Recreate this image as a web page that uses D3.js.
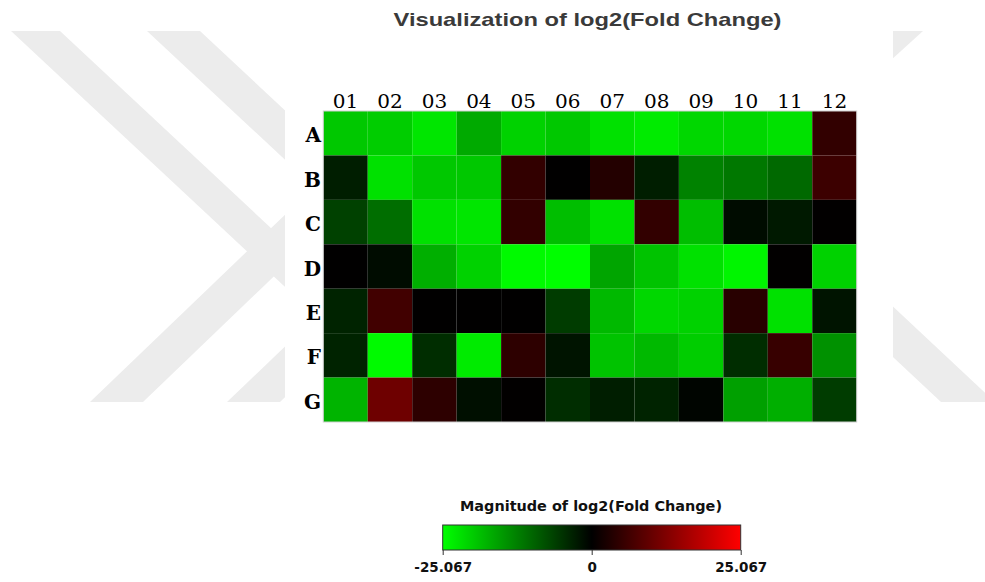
<!DOCTYPE html>
<html>
<head>
<meta charset="utf-8">
<script src="https://cdn.jsdelivr.net/npm/d3@7"></script>
<style>
  html, body { margin: 0; padding: 0; background: #fff; }
  svg { display: block; }
</style>
</head>
<body>
<div id="chart"></div>
<script>
// plate layout
const cols = ['01', '02', '03', '04', '05', '06', '07', '08', '09', '10', '11', '12'];
const rows = ['A', 'B', 'C', 'D', 'E', 'F', 'G'];

// log2(fold change) per well, row by row
const rowA = [-19.7, -20.2, -22.6, -16.7, -20.6, -19.7, -22.1, -23.1, -21.1, -21.1, -22.1, 4.9];
const rowB = [-2.9, -22.1, -19.7, -19.7, 4.9, 0.1, 3.4, -2.9, -12.8, -11.8, -10.3, 5.9];
const rowC = [-6.4, -10.8, -22.1, -22.6, 4.9, -18.7, -22.1, 4.9, -18.7, -1.2, -2.5, 0.2];
const rowD = [0.1, -1.2, -17.2, -20.6, -24.6, -25.0, -16.2, -19.2, -22.1, -24.1, 0.2, -20.6];
const rowE = [-3.4, 6.4, 0.1, 0.1, 0.1, -5.9, -18.2, -21.1, -20.6, 3.9, -22.1, -2.0];
const rowF = [-3.4, -24.6, -4.4, -23.1, 4.4, -2.0, -19.2, -18.2, -20.2, -4.4, 5.4, -14.3];
const rowG = [-17.7, 10.8, 4.4, -1.5, 0.2, -4.4, -2.9, -3.4, -0.5, -15.7, -17.2, -5.9];

const limit = 25.067;
const legendTicks = [-25.067, 0, 25.067];
const legendLabels = ['-25.067', '0', '25.067'];

const width = 985;
const height = 582;

const values = [rowA, rowB, rowC, rowD, rowE, rowF, rowG];
const cells = [];
values.forEach((r, i) => r.forEach((v, j) => cells.push({ row: rows[i], col: cols[j], value: v })));

const svg = d3.select('#chart').append('svg')
    .attr('width', width)
    .attr('height', height);

// faint watermark stripes behind the figure
const wm = svg.append('g').attr('fill', '#ececec');
const stripes = [
    [[11, 31], [60, 31], [362, 313], [313, 313]],
    [[90, 402], [143, 402], [490, 69], [437, 69]],
    [[147, 31], [200, 31], [470, 283], [417, 283]],
    [[227, 402], [280, 402], [520, 172], [467, 172]],
    [[870, 31], [923, 31], [780, 161], [727, 161]],
    [[941, 402], [995, 402], [760, 182], [706, 182]]
];
wm.selectAll('polygon').data(stripes).join('polygon')
    .attr('points', d => d.map(p => p.join(',')).join(' '));
svg.append('rect')
    .attr('x', 285).attr('y', 0)
    .attr('width', 608).attr('height', height)
    .attr('fill', '#fff');

const color = d3.scaleLinear()
    .domain([-limit, 0, limit])
    .range(['#00ff00', '#000000', '#ff0000'])
    .clamp(true);

const x = d3.scaleBand().domain(cols).range([323.3, 856.7]);
const y = d3.scaleBand().domain(rows).range([111, 422]);

svg.append('text')
    .attr('x', 587.5)
    .attr('y', 26)
    .attr('text-anchor', 'middle')
    .attr('textLength', 388)
    .attr('lengthAdjust', 'spacingAndGlyphs')
    .style('font-family', '"Liberation Sans", Arial, sans-serif')
    .style('font-weight', 'bold')
    .style('font-size', '18.5px')
    .style('fill', '#3a3a3a')
    .text('Visualization of log2(Fold Change)');

svg.append('g').selectAll('rect').data(cells).join('rect')
    .attr('x', d => x(d.col))
    .attr('y', d => y(d.row))
    .attr('width', x.bandwidth())
    .attr('height', y.bandwidth())
    .attr('fill', d => color(d.value));

svg.append('rect')
    .attr('x', 323.3).attr('y', 111)
    .attr('width', 533.4).attr('height', 311)
    .attr('fill', 'none')
    .attr('stroke', '#cfcfcf')
    .attr('stroke-width', 1);

svg.append('g').selectAll('text').data(cols).join('text')
    .attr('x', d => x(d) + x.bandwidth() / 2)
    .attr('y', 107.5)
    .attr('text-anchor', 'middle')
    .attr('textLength', 25.5)
    .attr('lengthAdjust', 'spacingAndGlyphs')
    .style('font-family', '"DejaVu Serif", serif')
    .style('font-size', '18px')
    .style('fill', '#000')
    .text(d => d);

svg.append('g').selectAll('text').data(rows).join('text')
    .attr('x', 321)
    .attr('y', d => y(d) + y.bandwidth() / 2 + 9)
    .attr('text-anchor', 'end')
    .style('font-family', '"DejaVu Serif", serif')
    .style('font-weight', 'bold')
    .style('font-size', '20px')
    .style('fill', '#000')
    .text(d => d);

// colour key
const lx = d3.scaleLinear().domain([-limit, limit]).range([442.7, 740.7]);

const grad = svg.append('defs').append('linearGradient')
    .attr('id', 'fcGrad')
    .attr('x1', '0%').attr('x2', '100%')
    .attr('y1', '0%').attr('y2', '0%');
grad.selectAll('stop').data(legendTicks).join('stop')
    .attr('offset', (d, i) => (i * 50) + '%')
    .attr('stop-color', d => color(d));

svg.append('text')
    .attr('x', 591)
    .attr('y', 511)
    .attr('text-anchor', 'middle')
    .attr('textLength', 262)
    .attr('lengthAdjust', 'spacingAndGlyphs')
    .style('font-family', '"DejaVu Sans", Verdana, sans-serif')
    .style('font-weight', 'bold')
    .style('font-size', '13.5px')
    .style('fill', '#111')
    .text('Magnitude of log2(Fold Change)');

svg.append('rect')
    .attr('x', lx(-limit)).attr('y', 525)
    .attr('width', lx(limit) - lx(-limit)).attr('height', 25)
    .attr('fill', 'url(#fcGrad)')
    .attr('stroke', '#333')
    .attr('stroke-width', 1);

const legendAxis = svg.append('g')
    .attr('transform', 'translate(0,550)')
    .call(d3.axisBottom(lx)
        .tickValues(legendTicks)
        .tickFormat((d, i) => legendLabels[i])
        .tickSize(5)
        .tickPadding(7));
legendAxis.select('.domain').remove();
legendAxis.selectAll('line').attr('stroke', '#333');
legendAxis.selectAll('text')
    .style('font-family', '"DejaVu Sans", Verdana, sans-serif')
    .style('font-weight', 'bold')
    .style('font-size', '13.5px')
    .style('fill', '#111');
</script>
</body>
</html>
